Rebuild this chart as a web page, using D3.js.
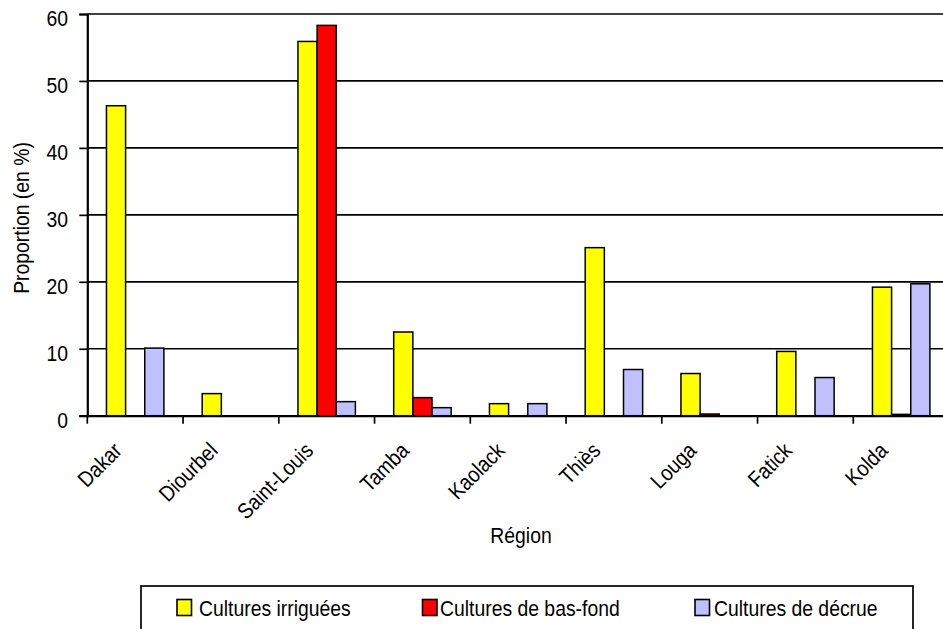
<!DOCTYPE html>
<html><head><meta charset="utf-8">
<script src="https://cdn.jsdelivr.net/npm/d3@7/dist/d3.min.js"></script>
<style>
html,body{margin:0;padding:0;background:#fff;overflow:hidden}
text{font-family:"Liberation Sans",Arial,sans-serif;fill:#000;font-size:22px}
</style></head><body>
<svg id="c" width="943" height="629"></svg>
<script>
const regions = ["Dakar","Diourbel","Saint-Louis","Tamba","Kaolack","Thiès","Louga","Fatick","Kolda"];
const seriesNames = ["Cultures irriguées","Cultures de bas-fond","Cultures de décrue"];
const irriguees = [46.3, 3.3, 55.9, 12.5, 1.8, 25.1, 6.3, 9.6, 19.2];
const basFond   = [0, 0, 58.3, 2.7, 0, 0, 0.25, 0, 0.2];
const decrue    = [10.1, 0, 2.1, 1.2, 1.8, 6.9, 0, 5.7, 19.7];
const yTicks = [0,10,20,30,40,50,60];
const colors = ["#ffff00","#ff0000","#c0c0ff"];

const series = [irriguees, basFond, decrue];
const svg = d3.select("#c");
const SX = 0.88; // condensed look
const L = 87.3, T = 14, B = 415.7, catW = 95.75;
const R = L + catW*regions.length;

const x = d3.scaleBand().domain(regions).range([L, R]).paddingInner(0).paddingOuter(0);
const xs = d3.scaleBand().domain(d3.range(3)).range([catW/5, catW*4/5]);
const y = d3.scaleLinear().domain([0,60]).range([B, T]);

function txt(sel, tx, ty, rot, anchor, s) {
  return sel.append("text")
    .attr("transform", `translate(${tx},${ty}) rotate(${rot}) scale(${SX},1)`)
    .attr("text-anchor", anchor).text(s);
}

// gridlines
svg.append("g").selectAll("line").data(yTicks.filter(d=>d>0)).join("line")
  .attr("x1", L).attr("x2", R).attr("y1", d=>y(d)).attr("y2", d=>y(d))
  .attr("stroke","#000").attr("stroke-width",1.7);

// bars
series.forEach((vals, si) => {
  svg.append("g").selectAll("rect").data(regions).join("rect")
    .attr("x", (d)=> x(d) + xs(si))
    .attr("width", xs.bandwidth())
    .attr("y", (d,i)=> y(vals[i]))
    .attr("height", (d,i)=> B - y(vals[i]))
    .attr("fill", colors[si])
    .attr("stroke", "#000").attr("stroke-width", 1.5)
    .attr("display", (d,i)=> vals[i] > 0 ? null : "none");
});

// y axis
const yAxis = svg.append("g").attr("transform", `translate(${L},0)`)
  .call(d3.axisLeft(y).tickValues(yTicks).tickSize(8).tickFormat(""));
yAxis.select(".domain").attr("stroke","#000").attr("stroke-width",2.2);
yAxis.selectAll(".tick line").attr("stroke","#000").attr("stroke-width",1.7);
yAxis.selectAll(".tick text").remove();
const yl = svg.append("g");
yTicks.forEach(t => txt(yl, 68, y(t)+12, 0, "end", d3.format("d")(t)));

// x axis
const xAxis = svg.append("g").attr("transform", `translate(0,${B})`)
  .call(d3.axisBottom(x).tickSize(0).tickFormat(""));
xAxis.select(".domain").attr("stroke","#000").attr("stroke-width",2.2);
xAxis.selectAll(".tick").remove();
xAxis.selectAll("line.t").data(regions).join("line").attr("class","t")
  .attr("x1", d=>x(d)).attr("x2", d=>x(d)).attr("y1",0).attr("y2",8)
  .attr("stroke","#000").attr("stroke-width",1.7);
const xl = svg.append("g");
regions.forEach(r => txt(xl, x(r)+x.bandwidth()/2-12, 452, -45, "end", r));

// axis titles
txt(svg, 29, 218, -90, "middle", "Proportion (en %)");
txt(svg, 521, 543, 0, "middle", "Région");

// legend
svg.append("rect").attr("x",141).attr("y",586).attr("width",772).attr("height",60)
  .attr("fill","#fff").attr("stroke","#000").attr("stroke-width",1.7);
const swX = [177, 422.5, 695];
const tX = [199, 440, 714];
seriesNames.forEach((n,i) => {
  svg.append("rect").attr("x",swX[i]).attr("y",599.5).attr("width",14.5).attr("height",16)
    .attr("fill",colors[i]).attr("stroke","#000").attr("stroke-width",1.6);
  txt(svg, tX[i], 616, 0, "start", n);
});
</script></body></html>
